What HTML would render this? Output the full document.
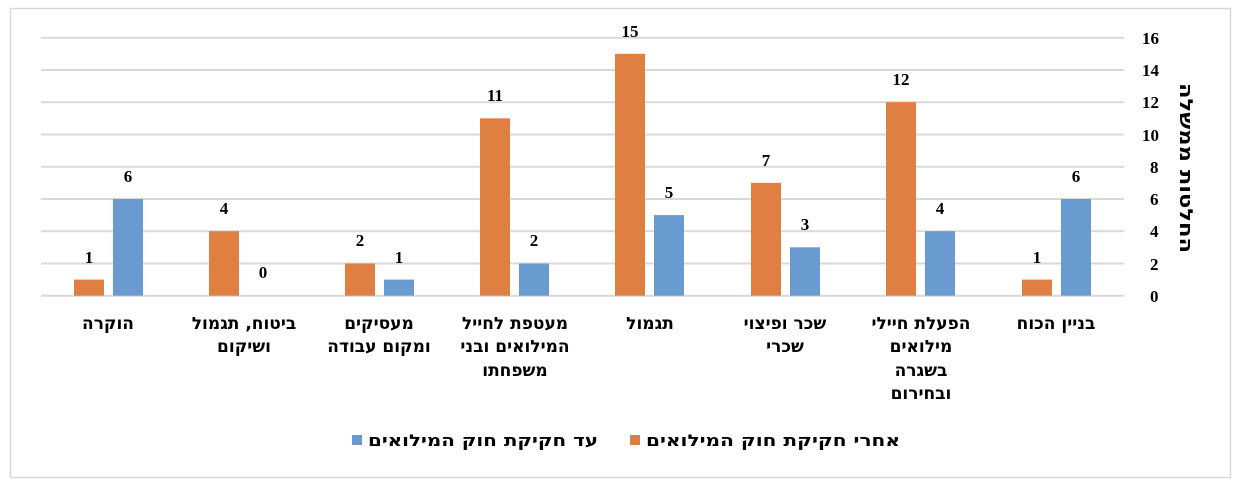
<!DOCTYPE html>
<html><head><meta charset="utf-8"><style>
html,body{margin:0;padding:0;background:#fff;}
svg{display:block;}
text{font-family:"Liberation Serif","DejaVu Serif",serif;font-weight:bold;fill:#000;}
text.h,.h text{font-family:"DejaVu Sans","Liberation Sans",sans-serif;font-weight:bold;}
</style></head><body>
<svg width="1244" height="490" viewBox="0 0 1244 490" xmlns="http://www.w3.org/2000/svg">
<rect x="10.5" y="8.5" width="1220" height="469" fill="#fff" stroke="#d9d9d9" stroke-width="1.5"/>
<g stroke="#d9d9d9" stroke-width="2">
<line x1="41" x2="1124" y1="37.7" y2="37.7"/>
<line x1="41" x2="1124" y1="70" y2="70"/>
<line x1="41" x2="1124" y1="102.2" y2="102.2"/>
<line x1="41" x2="1124" y1="134.5" y2="134.5"/>
<line x1="41" x2="1124" y1="166.7" y2="166.7"/>
<line x1="41" x2="1124" y1="199" y2="199"/>
<line x1="41" x2="1124" y1="231.2" y2="231.2"/>
<line x1="41" x2="1124" y1="263.5" y2="263.5"/>
<line x1="41" x2="1124" y1="295.7" y2="295.7"/>
</g>
<g font-size="17" text-anchor="start">
<text x="1142" y="44">16</text><text x="1142" y="76">14</text><text x="1142" y="108">12</text>
<text x="1142" y="141">10</text><text x="1150" y="173">8</text><text x="1150" y="205">6</text>
<text x="1150" y="237">4</text><text x="1150" y="270">2</text><text x="1150" y="302">0</text>
</g>
<text class="h" transform="translate(1180,168) rotate(90)" font-size="18" text-anchor="middle" textLength="170" lengthAdjust="spacingAndGlyphs">החלטות ממשלה</text>
<g fill="#e07f42">
<rect x="74" y="279.6" width="30" height="16.1"/>
<rect x="209" y="231.2" width="30" height="64.5"/>
<rect x="345" y="263.5" width="30" height="32.2"/>
<rect x="480" y="118.3" width="30" height="177.4"/>
<rect x="615" y="53.8" width="30" height="241.9"/>
<rect x="751" y="182.8" width="30" height="112.9"/>
<rect x="886" y="102.2" width="30" height="193.5"/>
<rect x="1022" y="279.6" width="30" height="16.1"/>
</g>
<g fill="#6a9bd0">
<rect x="113" y="199" width="30" height="96.7"/>
<rect x="384" y="279.6" width="30" height="16.1"/>
<rect x="519" y="263.5" width="30" height="32.2"/>
<rect x="654" y="215.1" width="30" height="80.6"/>
<rect x="790" y="247.3" width="30" height="48.4"/>
<rect x="925" y="231.2" width="30" height="64.5"/>
<rect x="1061" y="199" width="30" height="96.7"/>
</g>
<g font-size="17" text-anchor="middle">
<text x="89" y="263">1</text><text x="128" y="182">6</text>
<text x="224" y="214">4</text><text x="263" y="278">0</text>
<text x="360" y="246">2</text><text x="399" y="263">1</text>
<text x="495" y="101">11</text><text x="534" y="246">2</text>
<text x="630" y="37">15</text><text x="669" y="198">5</text>
<text x="766" y="166">7</text><text x="805" y="230">3</text>
<text x="901" y="85">12</text><text x="940" y="214">4</text>
<text x="1037" y="263">1</text><text x="1076" y="182">6</text>
</g>
<g class="h" font-size="17" text-anchor="middle">
<text x="108" y="329">הוקרה</text>
<text x="244" y="329">ביטוח, תגמול</text><text x="244" y="352">ושיקום</text>
<text x="379" y="329">מעסיקים</text><text x="379" y="352">ומקום עבודה</text>
<text x="515" y="329">מעטפת לחייל</text><text x="515" y="352">המילואים ובני</text><text x="515" y="376">משפחתו</text>
<text x="650" y="329">תגמול</text>
<text x="785" y="329">שכר ופיצוי</text><text x="785" y="352">שכרי</text>
<text x="921" y="329">הפעלת חיילי</text><text x="921" y="352">מילואים</text><text x="921" y="376">בשגרה</text><text x="921" y="399">ובחירום</text>
<text x="1056" y="329">בניין הכוח</text>
</g>
<rect x="352" y="435" width="10" height="10" fill="#6a9bd0"/>
<text class="h" x="368" y="446" font-size="16" textLength="230" lengthAdjust="spacingAndGlyphs">עד חקיקת חוק המילואים</text>
<rect x="630" y="435" width="10" height="10" fill="#e07f42"/>
<text class="h" x="646" y="446" font-size="16" textLength="254" lengthAdjust="spacingAndGlyphs">אחרי חקיקת חוק המילואים</text>
</svg>
</body></html>
